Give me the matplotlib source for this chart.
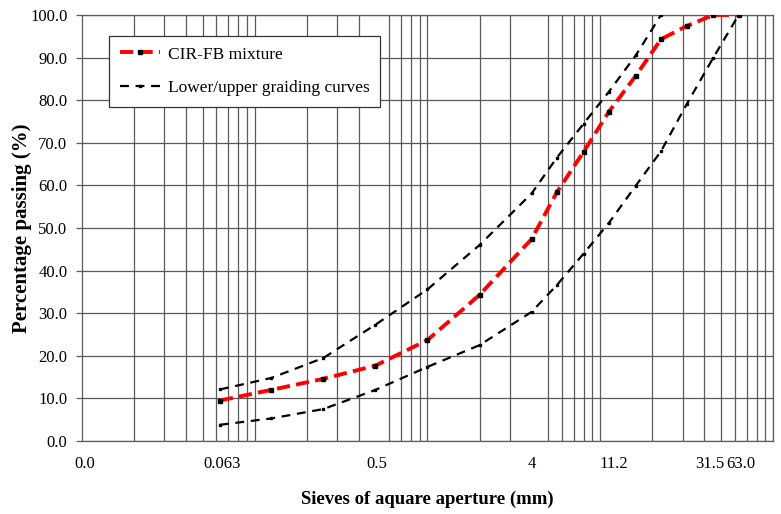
import matplotlib
matplotlib.use("Agg")
import matplotlib.pyplot as plt
import numpy as np
from matplotlib.ticker import LogLocator, NullFormatter, FixedLocator
from matplotlib.transforms import ScaledTranslation

# sieve sizes (mm) and percentage passing
SIEVES = [0.063, 0.125, 0.25, 0.5, 1, 2, 4, 5.6, 8, 11.2, 16, 22.4, 31.5, 45, 63]
MIXTURE = [9.5, 12.0, 14.6, 17.7, 23.7, 34.3, 47.4, 58.4, 67.9, 77.3, 85.7, 94.3, 97.4, 100, 100]
UPPER_SIEVES = [0.063, 0.125, 0.25, 0.5, 1, 2, 4, 5.6, 8, 11.2, 16, 22.4]
UPPER = [12.1, 14.8, 19.5, 27.3, 35.6, 46.0, 58.1, 66.5, 74.5, 82.0, 90.5, 100]
LOWER = [3.8, 5.3, 7.5, 12.0, 17.4, 22.5, 30.3, 36.6, 44.0, 51.2, 59.9, 68.0, 79.0, 90.0, 100]

XTICKS = [0.01, 0.063, 0.5, 4, 11.2, 31.5, 63]
XTICK_LABELS = ["0.0", "0.063", "0.5", "4", "11.2", "31.5", "63.0"]
XTICK_SHIFT = [3, 2, 1, 0, 5, 23, 2]   # px nudges seen in the original
YTICKS = np.arange(0, 101, 10)

GRID = "#5a5a5a"
plt.rcParams['font.family'] = ['Liberation Serif', 'DejaVu Serif']

fig = plt.figure(figsize=(7.81, 5.14), dpi=100)
ax = fig.add_axes([81.7 / 781, 1 - 441 / 514, (773.3 - 81.7) / 781, (441 - 15) / 514])

ax.plot(SIEVES, MIXTURE, color="red", lw=2.8, linestyle=(0, (3.4, 1.6)),
        marker="s", ms=2.2, mfc="black", mec="black", label="CIR-FB mixture", zorder=4)
ax.plot(UPPER_SIEVES, UPPER, color="black", lw=1.6, linestyle=(0, (4, 3)),
        marker="s", ms=2.0, mfc="black", mec="black", label="Lower/upper graiding curves", zorder=3)
ax.plot(SIEVES, LOWER, color="black", lw=1.6, linestyle=(0, (4, 3)),
        marker="s", ms=2.0, mfc="black", mec="black", zorder=3)

ax.set_xscale("log")
ax.set_xlim(0.01, 100)
ax.set_ylim(0, 100)

ax.xaxis.set_major_locator(FixedLocator(XTICKS))
ax.set_xticklabels(XTICK_LABELS)
ax.xaxis.set_minor_locator(LogLocator(base=10, subs=np.arange(1, 10), numticks=50))
ax.xaxis.set_minor_formatter(NullFormatter())
ax.tick_params(axis="x", which="both", length=0, pad=11, labelsize=12)
for lab, dx in zip(ax.get_xticklabels(), XTICK_SHIFT):
    lab.set_transform(lab.get_transform() + ScaledTranslation(dx / 100, 0, fig.dpi_scale_trans))

ax.set_yticks(YTICKS)
ax.set_yticklabels([f"{v:.1f}" for v in YTICKS])
ax.tick_params(axis="y", length=4.3, width=0.9, color=GRID, pad=6, labelsize=12)

ax.grid(which="minor", axis="x", color=GRID, lw=0.9)
ax.grid(which="major", axis="y", color=GRID, lw=0.9)
ax.grid(which="major", axis="x", visible=False)
ax.set_axisbelow(True)
for s in ax.spines.values():
    s.set_color(GRID)
    s.set_linewidth(0.9)

ax.set_xlabel("Sieves of aquare aperture (mm)", fontsize=13.5, fontweight="bold", labelpad=13)
ax.set_ylabel("Percentage passing (%)", fontsize=15, fontweight="bold")
ax.yaxis.set_label_coords(-0.072, 0.5)

leg = ax.legend(loc="upper left", bbox_to_anchor=((109.3 - 81.7) / 691.6, (441 - 36) / 426),
                fontsize=12.5, frameon=True, fancybox=False, framealpha=1, edgecolor="#333333",
                borderaxespad=0, borderpad=0.6, labelspacing=1.0, handlelength=2.3,
                handletextpad=0.5, numpoints=1)
leg.get_frame().set_linewidth(0.9)
leg.set_zorder(5)

fig.savefig("out.png", dpi=100)
